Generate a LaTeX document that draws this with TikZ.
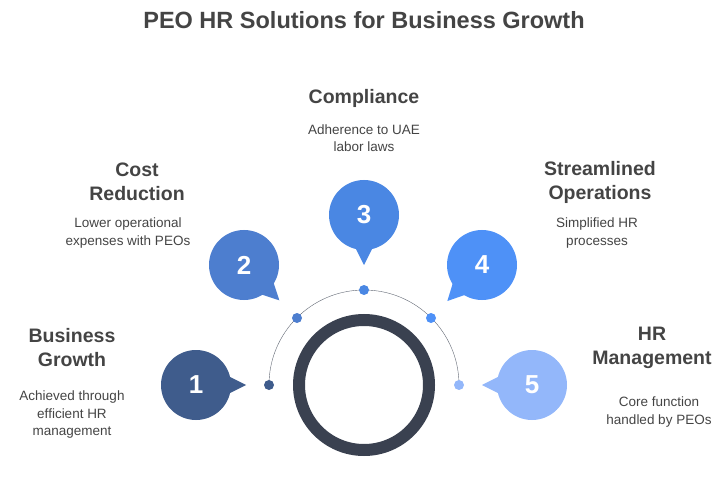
\documentclass[tikz,border=0pt]{standalone}
\usepackage{fontspec}
\setmainfont{Liberation Sans}
\usetikzlibrary{calc}
\definecolor{ringgray}{HTML}{3A4150}
\definecolor{textgray}{HTML}{444444}
\definecolor{cone}{HTML}{3F5C8C}
\definecolor{ctwo}{HTML}{4D7ECF}
\definecolor{cthree}{HTML}{4A87E3}
\definecolor{cfour}{HTML}{4E91F7}
\definecolor{cfive}{HTML}{93B7FA}
\tikzset{
  bubble/.style={circle, minimum size=70pt, inner sep=0pt, text=white, font=\bfseries\fontsize{26}{26}\selectfont},
  dot/.style={circle, minimum size=10pt, inner sep=0pt},
  head/.style={align=center, text=textgray, font=\bfseries\fontsize{19.5}{24}\selectfont},
  desc/.style={align=center, text=textgray, font=\fontsize{13.5}{17.5}\selectfont}
}
\begin{document}
\begin{tikzpicture}[x=1pt,y=1pt]
        \useasboundingbox (0,0) rectangle (725,477);

        % The title
        \node[text=textgray, font=\bfseries\fontsize{23.5}{28}\selectfont] (title) at (364,457) {PEO HR Solutions for Business Growth};

        % The ring and the arc
        \draw[ringgray, line width=12pt] (364,92) circle (65pt);
        \draw[ringgray!80, thin] (269,92) arc (180:0:95pt);

        % The dots
        \node[dot, fill=cone] (d1) at (269,92) {};
        \node[dot, fill=ctwo] (d2) at (297,159) {};
        \node[dot, fill=cthree] (d3) at (364,187) {};
        \node[dot, fill=cfour] (d4) at (431,159) {};
        \node[dot, fill=cfive] (d5) at (459,92) {};

        % The bubbles
        \foreach \n/\c/\p in {1/cone/{196,92}, 2/ctwo/{244,212}, 3/cthree/{364,262}, 4/cfour/{482,212}, 5/cfive/{532,92}} {
            \coordinate (c\n) at (\p);
            \fill[\c] ($(c\n)!30pt!22:(d\n)$) -- ($(c\n)!50pt!(d\n)$) -- ($(c\n)!30pt!-22:(d\n)$) -- cycle;
            \node[bubble, fill=\c] (b\n) at (c\n) {\n};
        }

        % The words
        \node[head] (h1) at (72,129) {Business\\Growth};
        \node[desc] (t1) at (72,62) {Achieved through\\efficient HR\\management};
        \node[head] (h2) at (137,295) {Cost\\Reduction};
        \node[desc] (t2) at (128,244) {Lower operational\\expenses with PEOs};
        \node[head] (h3) at (364,379) {Compliance};
        \node[desc] (t3) at (364,339) {Adherence to UAE\\labor laws};
        \node[head] (h4) at (600,295) {Streamlined\\Operations};
        \node[desc] (t4) at (597,244) {Simplified HR\\processes};
        \node[head] (h5) at (652,129) {HR\\Management};
        \node[desc] (t5) at (659,65) {Core function\\handled by PEOs};
\end{tikzpicture}
\end{document}
